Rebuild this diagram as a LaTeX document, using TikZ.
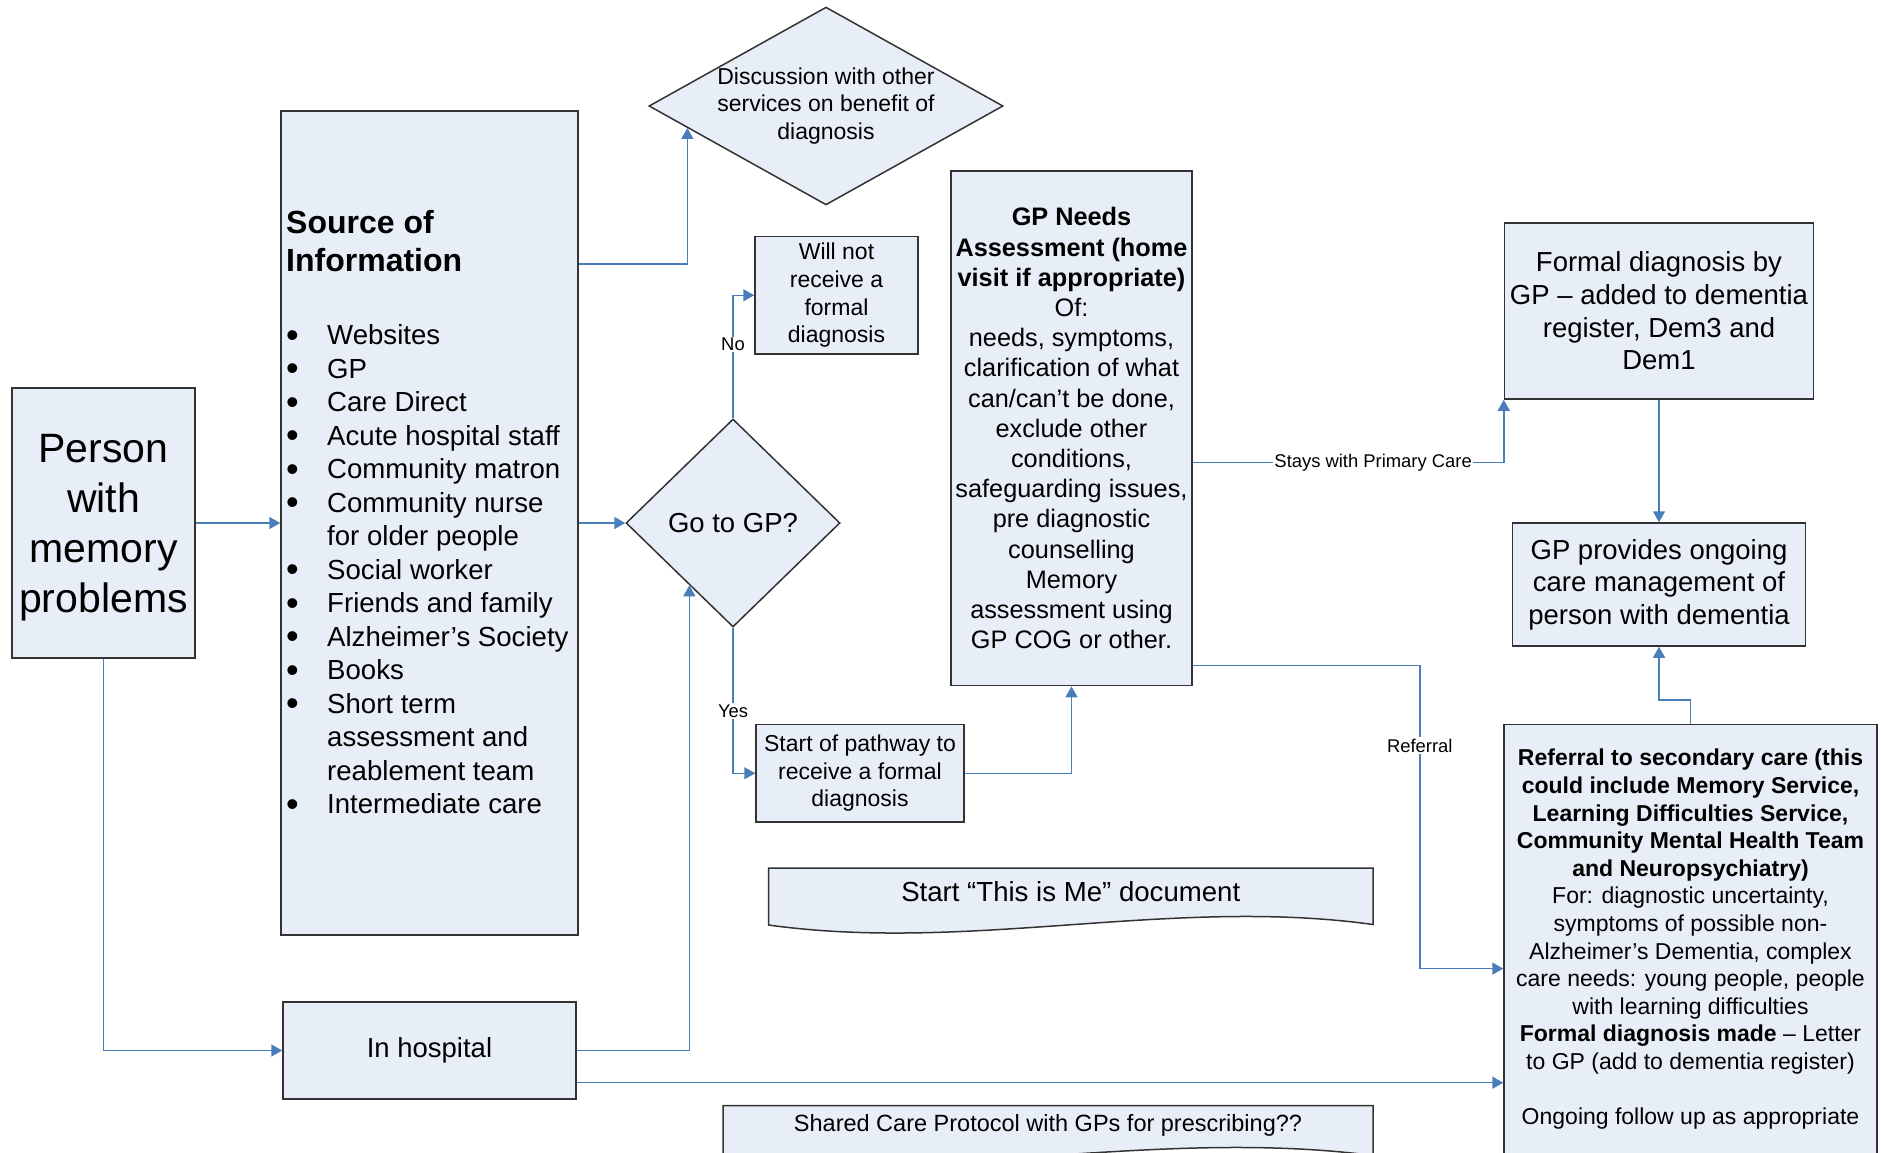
\documentclass[tikz,border=0pt]{standalone}
\usepackage{fontspec}
\setmainfont{Liberation Sans}
\usetikzlibrary{shapes.geometric,arrows.meta}
\definecolor{boxfill}{HTML}{E8EEF7}
\definecolor{flowblue}{HTML}{4A7EBB}
\newcommand{\srcitem}{\makebox[41pt][l]{\raisebox{-2.5pt}{\fontsize{36}{36}\selectfont\textbullet}}}
\newcommand{\srcgap}{\hspace*{41pt}}
\begin{document}
\begin{tikzpicture}[x=1pt,y=-1pt,
    box/.style={draw=black!80, fill=boxfill, line width=1.5pt, inner sep=2pt, align=center},
    decision/.style={box, diamond, inner sep=0pt},
    flow/.style={draw=flowblue, line width=1.5pt, -{Triangle[length=11pt,width=12pt]}},
    flowlabel/.style={fill=white, inner sep=1.5pt, font=\fontsize{18.4}{22}\selectfont}]
        \useasboundingbox (0,0) rectangle (1881,1153);
        \clip (0,0) rectangle (1881,1153);

        % left column
        \node[box, minimum width=183, minimum height=270, font=\fontsize{41}{50}\selectfont] (person) at (103.5,523) {\rule{0pt}{37pt}Person\\with\\memory\\problems};
        \node[box, minimum width=297, minimum height=824] (source) at (429.5,523) {};
        \node[anchor=north west, inner sep=0pt, align=left, font=\fontsize{27.6}{33.5}\selectfont] (sourcelist) at (286,210) {%
            {\fontsize{32}{38}\selectfont\bfseries Source of}\\[4.5pt]
            {\fontsize{32}{38}\selectfont\bfseries Information}\\[40pt]
            \srcitem Websites\\
            \srcitem GP\\
            \srcitem Care Direct\\
            \srcitem Acute hospital staff\\
            \srcitem Community matron\\
            \srcitem Community nurse\\
            \srcgap for older people\\
            \srcitem Social worker\\
            \srcitem Friends and family\\
            \srcitem Alzheimer’s Society\\
            \srcitem Books\\
            \srcitem Short term\\
            \srcgap assessment and\\
            \srcgap reablement team\\
            \srcitem Intermediate care};
        \node[box, minimum width=293, minimum height=97, font=\fontsize{27.5}{33}\selectfont] (hospital) at (429.5,1050.5) {In hospital};

        % middle
        \node[decision, aspect=1.79, minimum width=350, minimum height=196, font=\fontsize{23}{27.5}\selectfont] (discussion) at (826,106) {Discussion with other\\services on benefit of\\diagnosis};
        \node[decision, aspect=1.03, minimum width=214, minimum height=208, font=\fontsize{27.5}{33}\selectfont] (gp) at (733,523) {Go to GP?};
        \node[box, minimum width=163, minimum height=117.5, font=\fontsize{23}{27.7}\selectfont] (willnot) at (836.5,295.25) {Will not\\receive a\\formal\\diagnosis};
        \node[box, minimum width=208, minimum height=97.5, font=\fontsize{23}{27.7}\selectfont] (start) at (860,773.25) {Start of pathway to\\receive a formal\\diagnosis};
        \node[box, minimum width=241, minimum height=514.6, font=\fontsize{25.3}{30.2}\selectfont] (needs) at (1071.5,428.3) {\textbf{GP Needs}\\\textbf{Assessment (home}\\\textbf{visit if appropriate)}\\Of:\\needs, symptoms,\\clarification of what\\can/can’t be done,\\exclude other\\conditions,\\safeguarding issues,\\pre diagnostic\\counselling\\Memory\\assessment using\\GP COG or other.};

        % documents
        \draw[draw=black!80, fill=boxfill, line width=1.5pt] (768.5,868) -- (1373,868) -- (1373,924.5) .. controls (1171.5,896.5) and (970,953) .. (768.5,925) -- cycle;
        \node[font=\fontsize{27.6}{33}\selectfont] (thisisme) at (1070.75,892) {Start “This is Me” document};
        \draw[draw=black!80, fill=boxfill, line width=1.5pt] (723,1105.5) -- (1373,1105.5) -- (1373,1155.5) .. controls (1156,1127.5) and (940,1184) .. (723,1156) -- cycle;
        \node[font=\fontsize{23.5}{28}\selectfont] (shared) at (1048,1125.6) {Shared Care Protocol with GPs for prescribing??};

        % right column
        \node[box, minimum width=309, minimum height=176, font=\fontsize{27.5}{32.7}\selectfont] (formal) at (1659,311) {Formal diagnosis by\\GP – added to dementia\\register, Dem3 and\\Dem1};
        \node[box, minimum width=293.4, minimum height=123, font=\fontsize{27.5}{32.5}\selectfont] (provides) at (1659,584.5) {GP provides ongoing\\care management of\\person with dementia};
        \node[box, minimum width=373, minimum height=429.5, font=\fontsize{23}{27.6}\selectfont] (referral) at (1690.5,939.25) {\textbf{Referral to secondary care (this}\\\textbf{could include Memory Service,}\\\textbf{Learning Difficulties Service,}\\\textbf{Community Mental Health Team}\\\textbf{and Neuropsychiatry)}\\For: diagnostic uncertainty,\\symptoms of possible non-\\Alzheimer’s Dementia, complex\\care needs: young people, people\\with learning difficulties\\\textbf{Formal diagnosis made} – Letter\\to GP (add to dementia register)\\[27.6pt]Ongoing follow up as appropriate};

        \draw[flow] (person.east) -- (source.west);
        \draw[flow] (source.east) -- (gp.west);
        \draw[flow] ([yshift=259pt]source.east) -| (discussion.189);
        \draw[flow] (gp.north) |- node[flowlabel, pos=0.3] {No} (willnot.west);
        \draw[flow] (gp.south) |- node[flowlabel, pos=0.287] {Yes} (start.west);
        \draw[flow] (start.east) -| (needs.south);
        \draw[flow] ([yshift=-34pt]needs.east) -| node[flowlabel, pos=0.29] {Stays with Primary Care} (formal.south west);
        \draw[flow] ([yshift=-237.3pt]needs.east) -- ++(227,0) |- node[flowlabel, pos=0.132] {Referral} ([yshift=-29.35pt]referral.west);
        \draw[flow] (formal.south) -- (provides.north);
        \draw[flow] (referral.north) -- ++(0,-24) -| (provides.south);
        \draw[flow] (person.south) |- (hospital.west);
        \draw[flow] (hospital.east) -| (gp.235);
        \draw[flow] ([yshift=-32.2pt]hospital.east) -- ([yshift=-32.2pt]hospital.east -| referral.west);
\end{tikzpicture}
\end{document}
